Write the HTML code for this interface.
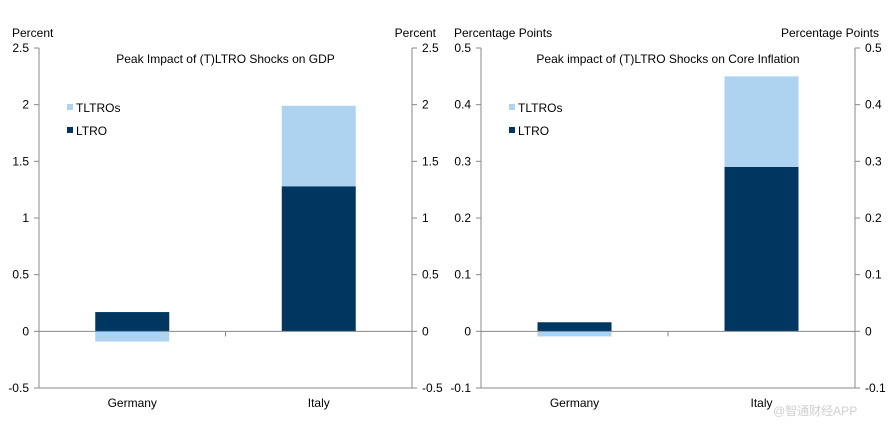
<!DOCTYPE html>
<html><head><meta charset="utf-8"><style>
body{margin:0;background:#fff;width:890px;height:431px;overflow:hidden;font-family:"Liberation Sans","Noto Sans CJK SC",sans-serif}
svg text{font-family:"Liberation Sans","Noto Sans CJK SC",sans-serif;font-size:12px;fill:#000}
</style></head><body>
<svg id="s" width="890" height="431"></svg>
<script>
const categories=["Germany","Italy"];
const gdpLTRO=[0.17,1.28];
const gdpTLTRO=[-0.09,0.71];
const gdpTicks=[2.5,2,1.5,1,0.5,0,-0.5];
const infLTRO=[0.016,0.29];
const infTLTRO=[-0.009,0.16];
const infTicks=[0.5,0.4,0.3,0.2,0.1,0,-0.1];
const svg=document.getElementById('s');
const NS='http://www.w3.org/2000/svg';
function mk(t,a,p){const e=document.createElementNS(NS,t);for(const k in a)e.setAttribute(k,a[k]);(p||svg).appendChild(e);return e;}
function chart(o){
 const g=mk('g',{});
 
 
 const x0=o.x0,x1=o.x1,yT=48,yB=388,min=o.ticks[o.ticks.length-1],max=o.ticks[0];
 const y=v=>yT+(max-v)/(max-min)*(yB-yT);
 const bw=(x1-x0)/categories.length;
 const barW=74;
 const cx=i=>x0+bw*(i+0.5);
 categories.forEach((c,i)=>{
  let pos=0,neg=0;
  [[o.ltro[i],'#003660','ltro'],[o.tltro[i],'#aed3f0','tltro']].forEach(([v,col,n])=>{
   let a,b;
   if(v>=0){a=pos;b=pos+v;pos=b;}else{a=neg;b=neg+v;neg=b;}
   const r=mk('rect',{x:cx(i)-barW/2,y:Math.min(y(a),y(b)),width:barW,height:Math.abs(y(a)-y(b)),fill:col},g);
   
   
  });
  const t=mk('text',{x:cx(i),y:407,'text-anchor':'middle'},g);t.textContent=c;
  
  
 });
 const ax='#888';
 mk('line',{x1:x0,y1:yT,x2:x0,y2:yB,stroke:ax},g);
 mk('line',{x1:x1,y1:yT,x2:x1,y2:yB,stroke:ax},g);
 mk('line',{x1:x0,y1:y(0),x2:x1,y2:y(0),stroke:ax},g);
 mk('line',{x1:x0,y1:yB,x2:x1,y2:yB,stroke:ax},g);
 mk('line',{x1:x0+bw,y1:y(0),x2:x0+bw,y2:y(0)+5,stroke:ax},g);
 o.ticks.forEach(v=>{
  mk('line',{x1:x0-5,y1:y(v),x2:x0,y2:y(v),stroke:ax},g);
  mk('line',{x1:x1,y1:y(v),x2:x1+5,y2:y(v),stroke:ax},g);
  const a=mk('text',{x:x0-10,y:y(v)+4,'text-anchor':'end'},g);a.textContent=v;
  
  
  const b=mk('text',{x:x1+10,y:y(v)+4},g);b.textContent=v;
  
  
 });
 const u1=mk('text',{x:x0-27,y:37},g);u1.textContent=o.unit;
 
 
 const u2=mk('text',{x:x1+24,y:37,'text-anchor':'end'},g);u2.textContent=o.unit;
 
 
 const ti=mk('text',{x:(x0+x1)/2,y:63,'text-anchor':'middle','font-size':'11px'},g);ti.textContent=o.title;
 
 
 [['TLTROs','#aed3f0',108],['LTRO','#003660',131]].forEach(([l,c,yy])=>{
  mk('rect',{x:x0+28,y:yy-4,width:6,height:6,fill:c},g);
  const t=mk('text',{x:x0+37,y:yy+4},g);t.textContent=l;
  
  
 });
}
chart({name:'gdp-chart',x0:39,x1:412,ticks:gdpTicks,ltro:gdpLTRO,tltro:gdpTLTRO,unit:'Percent',title:'Peak Impact of (T)LTRO Shocks on GDP'});
chart({name:'inflation-chart',x0:481,x1:855,ticks:infTicks,ltro:infLTRO,tltro:infTLTRO,unit:'Percentage Points',title:'Peak impact of (T)LTRO Shocks on Core Inflation'});
const w=mk('text',{x:773,y:415,fill:'#ccc','font-size':'14px',style:'fill:#d0d0d0'});w.textContent='@智通财经APP';


</script>
</body></html>
